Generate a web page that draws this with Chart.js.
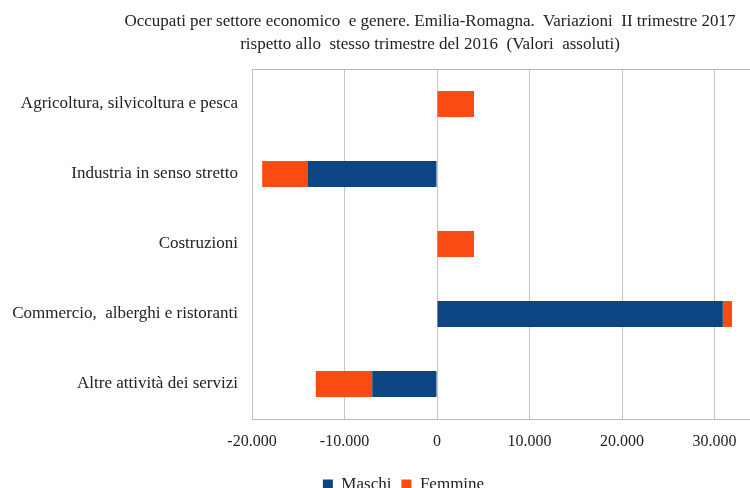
<!DOCTYPE html>
<html>
<head>
<meta charset="utf-8">
<script src="https://cdn.jsdelivr.net/npm/chart.js@4/dist/chart.umd.min.js"></script>
<style>
    html, body { margin: 0; padding: 0; background: #fff; }
    #wrap { position: relative; width: 750px; height: 488px; overflow: hidden; }
    #title {
        position: absolute; left: 80px; width: 700px; top: 9px;
        text-align: center; white-space: nowrap;
        font: 17px 'Liberation Serif', serif; line-height: 23px; color: #222;
    }
    #box { position: absolute; left: 0; top: 0; }
</style>
</head>
<body>
<div id="wrap">
    <div id="box"><canvas id="chart" width="820" height="503"></canvas></div>
    <div id="title">Occupati per settore economico&nbsp; e genere. Emilia-Romagna.&nbsp; Variazioni&nbsp; II trimestre 2017<br>rispetto allo&nbsp; stesso trimestre del 2016&nbsp; (Valori&nbsp; assoluti)</div>
</div>
<script>
// dati
const categories = [
    'Agricoltura, silvicoltura e pesca',
    'Industria in senso stretto',
    'Costruzioni',
    'Commercio,  alberghi e ristoranti',
    'Altre attività dei servizi'
];
const maschi = [0, -14000, 0, 30900, -7000];
const femmine = [4000, -4900, 4000, 1000, -6100];

const xMin = -20000;
const xMax = 40000;
const tickStep = 10000;
const lastShownTick = 30000;

const serif = "'Liberation Serif', 'Times New Roman', serif";

function formatNum(v) {
    if (v === 0) return '0';
    const s = String(Math.abs(v)).replace(/\B(?=(\d{3})+(?!\d))/g, '.');
    return (v < 0 ? '-' : '') + s;
}

new Chart(document.getElementById('chart'), {
    type: 'bar',
    data: {
        labels: categories,
        datasets: [
            {
                label: 'Maschi',
                data: maschi,
                backgroundColor: '#0D4583',
                borderWidth: 0,
                barPercentage: 0.37,
                categoryPercentage: 1
            },
            {
                label: 'Femmine',
                data: femmine,
                backgroundColor: '#FA4B13',
                borderWidth: 0,
                barPercentage: 0.37,
                categoryPercentage: 1
            }
        ]
    },
    options: {
        indexAxis: 'y',
        responsive: false,
        animation: false,
        layout: { padding: { top: 69, right: 13, left: 0, bottom: 0 } },
        plugins: {
            title: { display: false },
            tooltip: { enabled: false },
            legend: {
                position: 'bottom',
                labels: {
                    boxWidth: 10,
                    boxHeight: 10,
                    padding: 10,
                    color: '#222',
                    font: { family: serif, size: 17 }
                }
            }
        },
        scales: {
            x: {
                stacked: true,
                min: xMin,
                max: xMax,
                ticks: {
                    stepSize: tickStep,
                    color: '#222',
                    padding: 13,
                    font: { family: serif, size: 16 },
                    // the axis goes on past the picture edge, so its last label stays empty
                    callback: v => (v > lastShownTick ? '' : formatNum(v))
                },
                grid: { color: '#c4c4c4', drawTicks: false },
                border: { color: '#b8b8b8' },
                afterFit: scale => { scale.height = 47; }
            },
            xTop: {
                position: 'top',
                min: xMin,
                max: xMax,
                ticks: { display: false },
                grid: { display: false, drawTicks: false },
                border: { color: '#b8b8b8' }
            },
            y: {
                stacked: true,
                ticks: {
                    color: '#222',
                    padding: 14,
                    font: { family: serif, size: 17 }
                },
                grid: { display: false, drawTicks: false },
                border: { display: false },
                afterFit: scale => { scale.width = 252; }
            }
        }
    }
});
</script>
</body>
</html>
